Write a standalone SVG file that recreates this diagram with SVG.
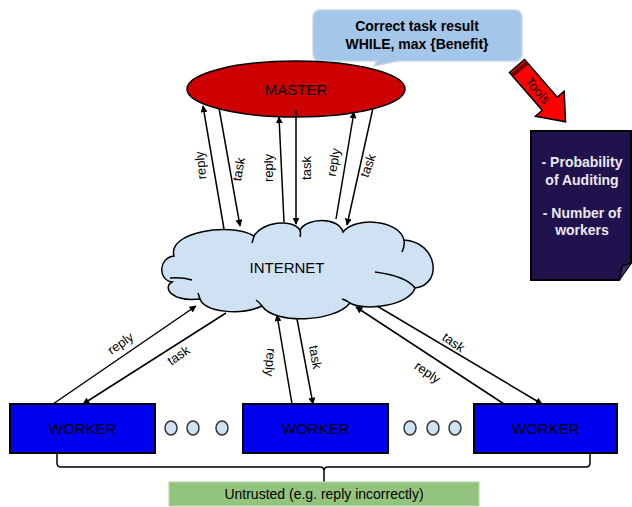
<svg xmlns="http://www.w3.org/2000/svg" width="632" height="507" viewBox="0 0 632 507">
<defs>
<style>
text{font-family:"Liberation Sans",Arial,sans-serif;}
.lbl{font-size:13px;fill:#000;text-anchor:middle;}
.node{font-size:15px;fill:#000;text-anchor:middle;}
.bold{font-size:14px;font-weight:bold;text-anchor:middle;}
.conn{stroke:#000;stroke-width:1.5;fill:none;marker-end:url(#ah);}
.worker{fill:#0000f0;stroke:#000;stroke-width:2;}
.dot{fill:#cfe2f3;stroke:#333;stroke-width:1.5;}
</style>
<marker id="ah" viewBox="0 0 10 10" refX="9" refY="5" markerWidth="7" markerHeight="7" markerUnits="userSpaceOnUse" orient="auto">
<path d="M0,0 L10,5 L0,10 Z" fill="#000"/>
</marker>
</defs>
<rect width="632" height="507" fill="#fff"/>

<g id="bubble">
<path d="M321,10 H514 Q522,10 522,18 V53 Q522,61 514,61 H398 L374,66 L377,61 H321 Q313,61 313,53 V18 Q313,10 321,10 Z" fill="#a4c6e8" stroke="#c9d5e2" stroke-width="1.5"/>
<text class="bold" x="417" y="31" fill="#000">Correct task result</text>
<text class="bold" x="417" y="49" fill="#000">WHILE, max {Benefit}</text>
</g>

<g id="tools" transform="translate(517,66) rotate(49)">
<path d="M0,-10 H50 V-19 L74,0 L50,19 V10 H0 Z" fill="#ff0000" stroke="#000" stroke-width="1.5"/>
<rect x="2" y="-10" width="4" height="20" fill="#600"/>
<text x="32" y="5" font-size="13" text-anchor="middle" fill="#000">Tools</text>
</g>

<g id="params">
<path d="M531,131 H631 V263 L619,280 H531 Z" fill="#20124d" stroke="#000" stroke-width="2"/>
<path d="M619,280 L622,266 L631,263" fill="#3a2d6a" stroke="#000" stroke-width="1.5"/>
<text class="bold" x="582" y="167" fill="#ece8f4">- Probability</text>
<text class="bold" x="582" y="185" fill="#ece8f4">of Auditing</text>
<text class="bold" x="582" y="218" fill="#ece8f4">- Number of</text>
<text class="bold" x="582" y="235" fill="#ece8f4">workers</text>
</g>

<g id="master">
<ellipse cx="296" cy="89" rx="109" ry="28" fill="#cc0000" stroke="#000" stroke-width="1.5"/>
<text class="node" x="296" y="95" font-size="14">MASTER</text>
</g>

<g id="internet">
<path d="M172,282 C158,280 158,258 174,256 C167,232 230,222 254,236 C262,222 292,218 300,230 C306,218 338,216 343,232 C355,216 400,220 404,240 C438,242 443,285 415,288 C410,305 365,312 350,303 C335,322 275,325 262,306 C240,316 205,312 200,299 C172,302 162,288 172,282 Z" fill="#cfe2f3" stroke="#000" stroke-width="1.5"/>
<path d="M170,278 Q182,277 192,280 M254,236 Q253,240 252,243 M300,230 Q301,234 300,237 M404,240 Q405,246 402,252 M415,288 Q406,276 375,272 M262,306 Q259,302 256,300 M350,303 Q346,300 342,299 M200,299 Q199,296 198,293" fill="none" stroke="#000" stroke-width="1.5"/>
<text class="node" x="287" y="273">INTERNET</text>
</g>

<g id="worker1">
<rect class="worker" x="10" y="404" width="145" height="49"/>
<text class="node" x="82.5" y="434">WORKER</text>
</g>
<g id="worker2">
<rect class="worker" x="243" y="404" width="145" height="49"/>
<text class="node" x="315.5" y="434">WORKER</text>
</g>
<g id="worker3">
<rect class="worker" x="474" y="404" width="143" height="49"/>
<text class="node" x="545.5" y="434">WORKER</text>
</g>

<g id="dots">
<ellipse class="dot" cx="171" cy="428" rx="6" ry="7"/>
<ellipse class="dot" cx="193" cy="428" rx="6" ry="7"/>
<ellipse class="dot" cx="222" cy="428" rx="6" ry="7"/>
<ellipse class="dot" cx="410" cy="428" rx="6" ry="7"/>
<ellipse class="dot" cx="433" cy="428" rx="6" ry="7"/>
<ellipse class="dot" cx="455" cy="428" rx="6" ry="7"/>
</g>

<g id="brace">
<path d="M57,453 V463 Q57,467 61,467 H320 Q324,467 324,471 V482 M324,471 Q324,467 328,467 H586 Q590,467 590,463 V453" fill="none" stroke="#000" stroke-width="1.5"/>
</g>

<g id="untrusted">
<rect x="169" y="482" width="310" height="24" fill="#93c47d" stroke="#b6d7a8" stroke-width="1"/>
<text x="324" y="499" font-size="14" text-anchor="middle" fill="#000">Untrusted (e.g. reply incorrectly)</text>
</g>

<g id="connectors">
<path class="conn" d="M224,229 L203,106"/>
<path class="conn" d="M219,108 L240,226"/>
<path class="conn" d="M284,222 L279,117"/>
<path class="conn" d="M296,110 L296,224"/>
<path class="conn" d="M336,219 L354,112"/>
<path class="conn" d="M373,108 L347,225"/>
<path class="conn" d="M53,404 L196,306"/>
<path class="conn" d="M226,313 L83,404"/>
<path class="conn" d="M292,404 L277,315"/>
<path class="conn" d="M297,319 L313,404"/>
<path class="conn" d="M504,404 L356,307"/>
<path class="conn" d="M377,306 L542,404"/>
</g>

<g id="labels">
<text class="lbl" transform="translate(205,165) rotate(-95)">reply</text>
<text class="lbl" transform="translate(243,170) rotate(-80)">task</text>
<text class="lbl" transform="translate(273,168) rotate(-90)">reply</text>
<text class="lbl" transform="translate(311,168) rotate(-90)">task</text>
<text class="lbl" transform="translate(338,163) rotate(-80)">reply</text>
<text class="lbl" transform="translate(372,167) rotate(-70)">task</text>
<text class="lbl" transform="translate(123,347) rotate(-35)">reply</text>
<text class="lbl" transform="translate(181,359) rotate(-35)">task</text>
<text class="lbl" transform="translate(266,362) rotate(95)">reply</text>
<text class="lbl" transform="translate(311,358) rotate(80)">task</text>
<text class="lbl" transform="translate(451,346) rotate(35)">task</text>
<text class="lbl" transform="translate(425,376) rotate(35)">reply</text>
</g>
</svg>
